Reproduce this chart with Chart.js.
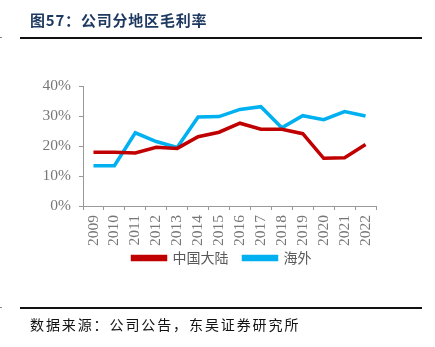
<!DOCTYPE html>
<html>
<head>
<meta charset="utf-8">
<script src="https://cdn.jsdelivr.net/npm/chart.js@4"></script>
<style>
  body { margin: 0; background: #fff; }
  #wrap { position: relative; width: 435px; height: 347px; }
  #c { position: absolute; left: 0; top: 0; }
  .title { position: absolute; left: 30px; top: 9px; font: bold 15px "Noto Sans CJK SC"; color: #1f3a60; letter-spacing: 0.8px; white-space: nowrap; }
  .rule { position: absolute; left: 20px; width: 402px; height: 1.5px; background: #111; }
  .mark { position: absolute; left: 0; width: 2px; height: 1px; background: #888; }
  .src { position: absolute; left: 30px; top: 314px; font: 14px "Noto Sans CJK SC"; color: #111; letter-spacing: 1.9px; white-space: nowrap; }
</style>
</head>
<body>
<div id="wrap">
  <canvas id="c" width="435" height="347"></canvas>
  <div class="title">图57：公司分地区毛利率</div>
  <div class="rule" style="top:37px"></div>
  <div class="mark" style="top:37px"></div>
  <div class="rule" style="top:307px"></div>
  <div class="mark" style="top:307px"></div>
  <div class="src">数据来源：公司公告，东吴证券研究所</div>
</div>
<script>
const years = ["2009", "2010", "2011", "2012", "2013", "2014", "2015", "2016", "2017", "2018", "2019", "2020", "2021", "2022"];
const mainland = [17.9, 17.9, 17.7, 19.6, 19.2, 23.1, 24.6, 27.6, 25.6, 25.6, 24.1, 15.9, 16.1, 20.5];
const overseas = [13.4, 13.4, 24.4, 21.5, 19.5, 29.7, 29.8, 32.2, 33.1, 26.1, 30.1, 28.8, 31.5, 30.0];
const seriesNames = ["中国大陆", "海外"];

const ctx = document.querySelector("#c");
const tickFont = { family: "Liberation Serif", size: 15.5 };

// pull the legend up closer to the rotated year labels
const legendLift = {
  id: "legendLift",
  afterLayout(chart) {
    chart.legend.top -= 15;
    chart.legend.bottom -= 15;
  },
};

new Chart(ctx, {
  type: "line",
  data: {
    labels: years,
    datasets: [
      { label: seriesNames[0], data: mainland, borderColor: "#c00000", backgroundColor: "#c00000", borderWidth: 3.5, pointRadius: 0, tension: 0 },
      { label: seriesNames[1], data: overseas, borderColor: "#00b0f0", backgroundColor: "#00b0f0", borderWidth: 3.5, pointRadius: 0, tension: 0 },
    ],
  },
  options: {
    responsive: false,
    animation: false,
    layout: { padding: { left: 9, right: 0, top: 86, bottom: 57 } },
    plugins: {
      legend: {
        position: "bottom",
        labels: {
          boxWidth: 33,
          boxHeight: 3,
          padding: 15,
          color: "#595959",
          font: { family: "Noto Sans CJK SC", size: 14 },
        },
      },
      tooltip: { enabled: false },
    },
    scales: {
      x: {
        offset: true,
        grid: { offset: true, drawOnChartArea: false, tickLength: 4, color: "#999" },
        border: { color: "#999" },
        ticks: { color: "#777", font: tickFont, minRotation: 90, maxRotation: 90, padding: 5, autoSkip: false },
      },
      y: {
        min: 0,
        max: 40,
        grid: { drawOnChartArea: false, tickLength: 4, color: "#999" },
        border: { color: "#999" },
        ticks: { stepSize: 10, color: "#777", font: tickFont, padding: 8, callback: (v) => v + "%" },
        afterFit: (s) => { s.width = 74; },
      },
      yRight: {
        position: "right",
        display: true,
        min: 0,
        max: 40,
        grid: { display: false },
        border: { display: false },
        ticks: { display: false },
        afterFit: (s) => { s.width = 59; },
      },
    },
  },
  plugins: [legendLift],
});
</script>
</body>
</html>
